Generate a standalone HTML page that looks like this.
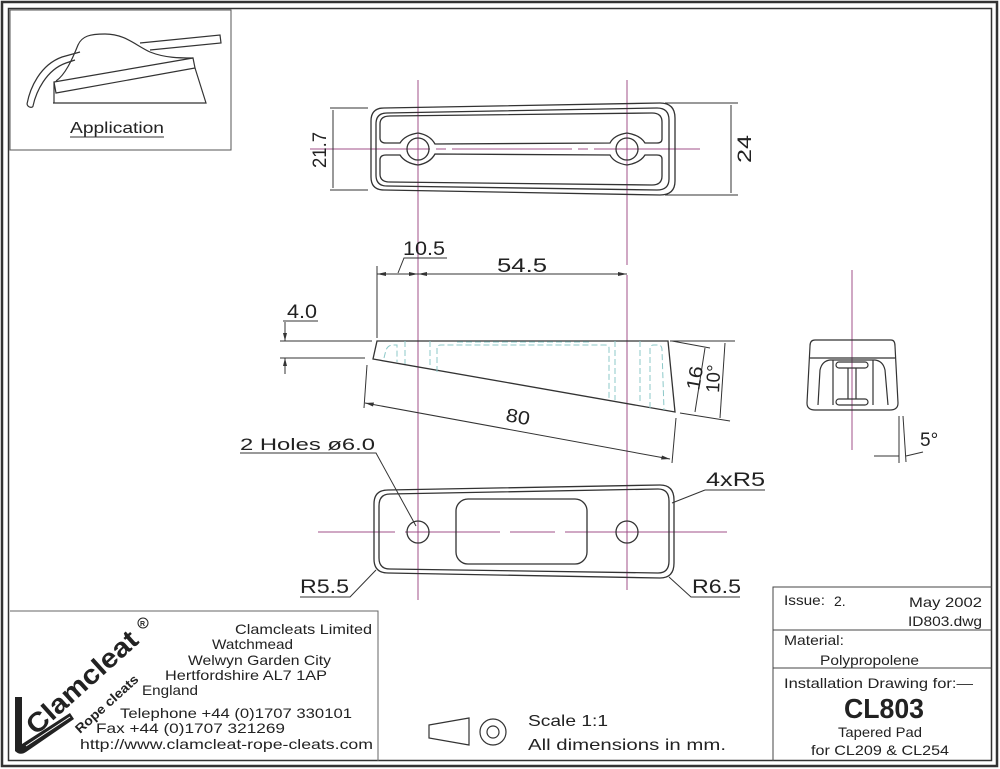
<!DOCTYPE html>
<html><head><meta charset="utf-8"><style>
html,body{margin:0;padding:0;background:#fff;}
svg{display:block;}
text{font-family:"Liberation Sans",sans-serif;fill:#222;}
</style></head><body>
<svg width="1000" height="769" viewBox="0 0 1000 769" xmlns="http://www.w3.org/2000/svg">
<rect x="0" y="0" width="1000" height="769" fill="#fff"/>
<!-- borders -->
<rect x="2" y="2" width="995" height="764" fill="none" stroke="#333" stroke-width="2.5"/>
<rect x="8.5" y="8.5" width="983" height="752" fill="none" stroke="#333" stroke-width="1.5"/>
<!-- application box -->
<rect x="10" y="10" width="221" height="140" fill="none" stroke="#555" stroke-width="1"/>
<g fill="none" stroke="#333" stroke-width="1.2">
<path d="M53,103 L206,103 L195,68"/>
<path d="M54,82 L193,58 L195,68 L56,93 Z"/>
<path d="M54,82 L54,103"/>
<path d="M56,81 C65,75 72,60 78,45 C82,36 90,34 105,34 C125,34 135,45 150,52 C165,58 180,58 193,58"/>
<path d="M27,104 C30,88 40,65 62,57 L80,52"/>
<path d="M33,106 C36,92 46,70 66,63 L75,60"/>
<path d="M27,104 C28,108 33,108 33,106"/>
<path d="M140,43 L220,35 L221,43 L150,50"/>
</g>
<text x="70" y="133" font-size="16" textLength="94" lengthAdjust="spacingAndGlyphs">Application</text>
<line x1="70" y1="137" x2="164" y2="137" stroke="#333" stroke-width="1"/>

<!-- centerlines -->
<g stroke="#a0508a" stroke-width="1" fill="none">
<line x1="418" y1="80" x2="418" y2="600"/>
<line x1="627" y1="80" x2="627" y2="265"/>
<line x1="627" y1="275" x2="627" y2="590"/>
<line x1="310" y1="149" x2="700" y2="149" stroke-dasharray="120,6,10,6"/>
<line x1="318" y1="532" x2="395" y2="532"/>
<line x1="405" y1="532" x2="500" y2="532"/>
<line x1="510" y1="532" x2="555" y2="532"/>
<line x1="565" y1="532" x2="727" y2="532"/>
<line x1="852" y1="270" x2="852" y2="450"/>
</g>

<!-- top view -->
<g fill="none" stroke="#333" stroke-width="1.3">
<path d="M384,108 L660,103 Q675,103 675,118 L675,181 Q675,195 660,195 L384,190 Q371,190 371,177 L371,121 Q371,108 384,108 Z"/>
<path d="M387,113 L657,108 Q669,108 669,120 L669,179 Q669,190 657,190 L387,186 Q376,186 376,175 L376,124 Q376,113 387,113 Z"/>
<path d="M390,116 L652,113 Q662,113 662,122 L662,139 Q662,143 657,143 L645,143 Q640,135 627,133 Q614,135 610,143 L435,144 Q430,135 418,133 Q405,135 400,143 L386,143 Q380,143 380,138 L380,124 Q380,116 390,116 Z"/>
<path d="M390,182 L652,185 Q662,185 662,176 L662,159 Q662,155 657,155 L645,155 Q640,163 627,165 Q614,163 610,155 L435,154 Q430,163 418,165 Q405,163 400,155 L386,155 Q380,155 380,160 L380,174 Q380,182 390,182 Z"/>
<circle cx="418" cy="149" r="11"/>
<circle cx="627" cy="149" r="11"/>
</g>
<g stroke="#333" stroke-width="1" fill="none">
<line x1="330" y1="108" x2="368" y2="108"/>
<line x1="330" y1="190" x2="368" y2="190"/>
<line x1="333" y1="110" x2="333" y2="188"/>
<line x1="665" y1="103" x2="738" y2="103"/>
<line x1="665" y1="195" x2="738" y2="195"/>
<line x1="731" y1="105" x2="731" y2="193"/>
</g>
<text transform="translate(326,168) rotate(-90)" font-size="19" textLength="36" lengthAdjust="spacingAndGlyphs">21.7</text>
<text transform="translate(751,163) rotate(-90)" font-size="19" textLength="28" lengthAdjust="spacingAndGlyphs">24</text>

<!-- side view -->
<g fill="none" stroke="#333" stroke-width="1.3">
<path d="M377,341 L668,341 L675,412 L373,359 Z"/>
</g>
<g fill="none" stroke="#8cc8c8" stroke-width="1" stroke-dasharray="6,3">
<path d="M384,358 L386,350 Q388,345 393,345 L397,345 L397,362"/>
<path d="M405,341 L405,364"/>
<path d="M430,341 L430,368"/>
<path d="M437,372 L437,348 Q437,345 441,345 L605,345 Q609,345 609,348 L609,398"/>
<path d="M615,341 L615,400"/>
<path d="M640,341 L640,404"/>
<path d="M650,408 L650,348 Q650,345 654,345 L658,345 Q662,345 662,350 L664,410"/>
<path d="M457,342 L590,342"/>
</g>
<g stroke="#333" stroke-width="1" fill="none">
<line x1="377" y1="266" x2="377" y2="338"/>
<line x1="377" y1="274" x2="627" y2="274"/>
<path d="M398,273 L404,258 L447,258"/>
<line x1="280" y1="341" x2="372" y2="341"/>
<line x1="280" y1="358" x2="365" y2="358"/>
<line x1="285" y1="322" x2="285" y2="341"/>
<line x1="285" y1="358" x2="285" y2="374"/>
<line x1="283" y1="321" x2="318" y2="321"/>
<line x1="367" y1="365" x2="364" y2="408"/>
<line x1="676" y1="418" x2="672" y2="463"/>
<line x1="365" y1="403" x2="670" y2="459"/>
<line x1="672" y1="341" x2="710" y2="348"/>
<line x1="705" y1="348" x2="695" y2="412"/>
<line x1="680" y1="413" x2="730" y2="421"/>
<line x1="670" y1="341" x2="735" y2="341"/>
<line x1="725" y1="343" x2="720" y2="418"/>
</g>
<g fill="#333">
<path d="M377,274 l9,-2 l0,4 z"/><path d="M418,274 l-9,-2 l0,4 z"/>
<path d="M418,274 l9,-2 l0,4 z"/><path d="M627,274 l-9,-2 l0,4 z"/>
<path d="M285,341 l-2,-8 l4,0 z"/><path d="M285,358 l-2,8 l4,0 z"/>
<path d="M365,403 l9,-0.5 l-1,4 z"/><path d="M670,459 l-9,0.5 l1,-4 z"/>
</g>
<text x="403" y="255" font-size="19" textLength="42" lengthAdjust="spacingAndGlyphs">10.5</text>
<text x="497" y="272" font-size="19" textLength="50" lengthAdjust="spacingAndGlyphs">54.5</text>
<text x="287" y="318" font-size="19" textLength="30" lengthAdjust="spacingAndGlyphs">4.0</text>
<text transform="translate(505,421) rotate(10)" font-size="19" textLength="24" lengthAdjust="spacingAndGlyphs">80</text>
<text transform="translate(699,391) rotate(-80)" font-size="19" textLength="24" lengthAdjust="spacingAndGlyphs">16</text>
<text transform="translate(719,393) rotate(-87)" font-size="19" textLength="28" lengthAdjust="spacingAndGlyphs">10°</text>

<!-- end view -->
<g fill="none" stroke="#333" stroke-width="1.2">
<path d="M815,340 L891,340 Q895,340 895,346 L898,403 Q898,410 890,410 L815,410 Q807,410 807,403 L810,346 Q810,340 815,340 Z"/>
<path d="M810,358 L895,358"/>
<path d="M818,405 L820,370 Q822,361 830,360 L875,360 Q883,361 885,370 L888,405"/>
<path d="M833,360 L833,405 M873,360 L873,405"/>
<rect x="836" y="362" width="32" height="6" rx="3"/>
<rect x="836" y="399" width="32" height="6" rx="3"/>
<line x1="848" y1="368" x2="848" y2="399"/><line x1="856" y1="368" x2="856" y2="399"/>
</g>
<g stroke="#333" stroke-width="1" fill="none">
<line x1="899" y1="416" x2="899" y2="463"/>
<line x1="903" y1="416" x2="906" y2="462"/>
<line x1="874" y1="456" x2="899" y2="456"/>
<line x1="906" y1="456" x2="923" y2="452"/>
</g>
<text x="920" y="446" font-size="19">5°</text>

<!-- bottom view -->
<g fill="none" stroke="#333" stroke-width="1.3">
<path d="M388,490 L660,485 Q674,485 674,500 L674,563 Q674,578 660,578 L388,573 Q374,573 374,559 L374,504 Q374,490 388,490 Z"/>
<path d="M390,494 L658,489 Q669,489 669,501 L669,561 Q669,573 658,573 L390,569 Q379,569 379,558 L379,506 Q379,494 390,494 Z"/>
<rect x="456" y="499" width="131" height="65" rx="12"/>
<circle cx="418" cy="532" r="11"/>
<circle cx="627" cy="532" r="11"/>
</g>
<g stroke="#333" stroke-width="1" fill="none">
<path d="M240,453 L376,453 L416,526"/>
<path d="M705,490 L765,490 M705,490 L672,503"/>
<path d="M300,597 L350,597 L376,570"/>
<path d="M740,597 L691,597 L669,577"/>
</g>
<text x="240" y="450" font-size="17" textLength="135" lengthAdjust="spacingAndGlyphs">2 Holes ø6.0</text>
<text x="706" y="486" font-size="19" textLength="59" lengthAdjust="spacingAndGlyphs">4xR5</text>
<text x="300" y="593" font-size="19" textLength="49" lengthAdjust="spacingAndGlyphs">R5.5</text>
<text x="692" y="593" font-size="19" textLength="49" lengthAdjust="spacingAndGlyphs">R6.5</text>

<!-- scale -->
<g fill="none" stroke="#333" stroke-width="1.2">
<path d="M429,725 L469,718 L469,745 L429,738 Z"/>
<circle cx="493" cy="732" r="13"/>
<circle cx="493" cy="732" r="6"/>
</g>
<text x="528" y="726" font-size="16" textLength="80" lengthAdjust="spacingAndGlyphs">Scale 1:1</text>
<text x="528" y="750" font-size="16" textLength="198" lengthAdjust="spacingAndGlyphs">All dimensions in mm.</text>

<!-- address box -->
<path d="M10,611 L378,611 L378,761" fill="none" stroke="#666" stroke-width="1"/>
<g font-size="14">
<text x="235" y="634" textLength="137" lengthAdjust="spacingAndGlyphs">Clamcleats Limited</text>
<text x="212" y="649" textLength="81" lengthAdjust="spacingAndGlyphs">Watchmead</text>
<text x="188" y="665" textLength="143" lengthAdjust="spacingAndGlyphs">Welwyn Garden City</text>
<text x="165" y="680" textLength="162" lengthAdjust="spacingAndGlyphs">Hertfordshire AL7 1AP</text>
<text x="142" y="695" textLength="56" lengthAdjust="spacingAndGlyphs">England</text>
<text x="120" y="718" textLength="232" lengthAdjust="spacingAndGlyphs">Telephone +44 (0)1707 330101</text>
<text x="96" y="733" textLength="189" lengthAdjust="spacingAndGlyphs">Fax +44 (0)1707 321269</text>
<text x="80" y="749" textLength="293" lengthAdjust="spacingAndGlyphs">http://www.clamcleat-rope-cleats.com</text>
</g>
<!-- logo -->
<path d="M15,697 L22,697 L22,744 L70,713 L74,719 L26,752 Q20,756 15,751 Z" fill="#222"/>
<line x1="26" y1="746" x2="70" y2="717" stroke="#fff" stroke-width="1"/>
<text transform="translate(36,736) rotate(-42)" font-size="27" font-weight="bold" textLength="140" lengthAdjust="spacingAndGlyphs">Clamcleat</text>
<text transform="translate(80,734) rotate(-42)" font-size="13" font-weight="bold" textLength="80" lengthAdjust="spacingAndGlyphs">Rope cleats</text>
<circle cx="143" cy="623" r="5" fill="none" stroke="#222" stroke-width="1"/>
<text x="140" y="626" font-size="7" font-weight="bold">R</text>

<!-- title block -->
<g fill="none" stroke="#444" stroke-width="1">
<path d="M773,761 L773,587 L992,587"/>
<line x1="773" y1="630" x2="992" y2="630"/>
<line x1="773" y1="668" x2="992" y2="668"/>
</g>
<g font-size="14">
<text x="784" y="605" textLength="41" lengthAdjust="spacingAndGlyphs">Issue:</text>
<text x="834" y="606">2.</text>
<text x="909" y="607" textLength="73" lengthAdjust="spacingAndGlyphs">May 2002</text>
<text x="908" y="626" textLength="74" lengthAdjust="spacingAndGlyphs">ID803.dwg</text>
<text x="784" y="645" textLength="60" lengthAdjust="spacingAndGlyphs">Material:</text>
<text x="820" y="665" textLength="99" lengthAdjust="spacingAndGlyphs">Polypropolene</text>
<text x="784" y="688" textLength="189" lengthAdjust="spacingAndGlyphs">Installation Drawing for:—</text>
<text x="838" y="737" textLength="84" lengthAdjust="spacingAndGlyphs">Tapered Pad</text>
<text x="811" y="755" textLength="138" lengthAdjust="spacingAndGlyphs">for CL209 &amp; CL254</text>
</g>
<text x="844" y="718" font-size="28" font-weight="bold" textLength="80" lengthAdjust="spacingAndGlyphs">CL803</text>
</svg>
</body></html>
